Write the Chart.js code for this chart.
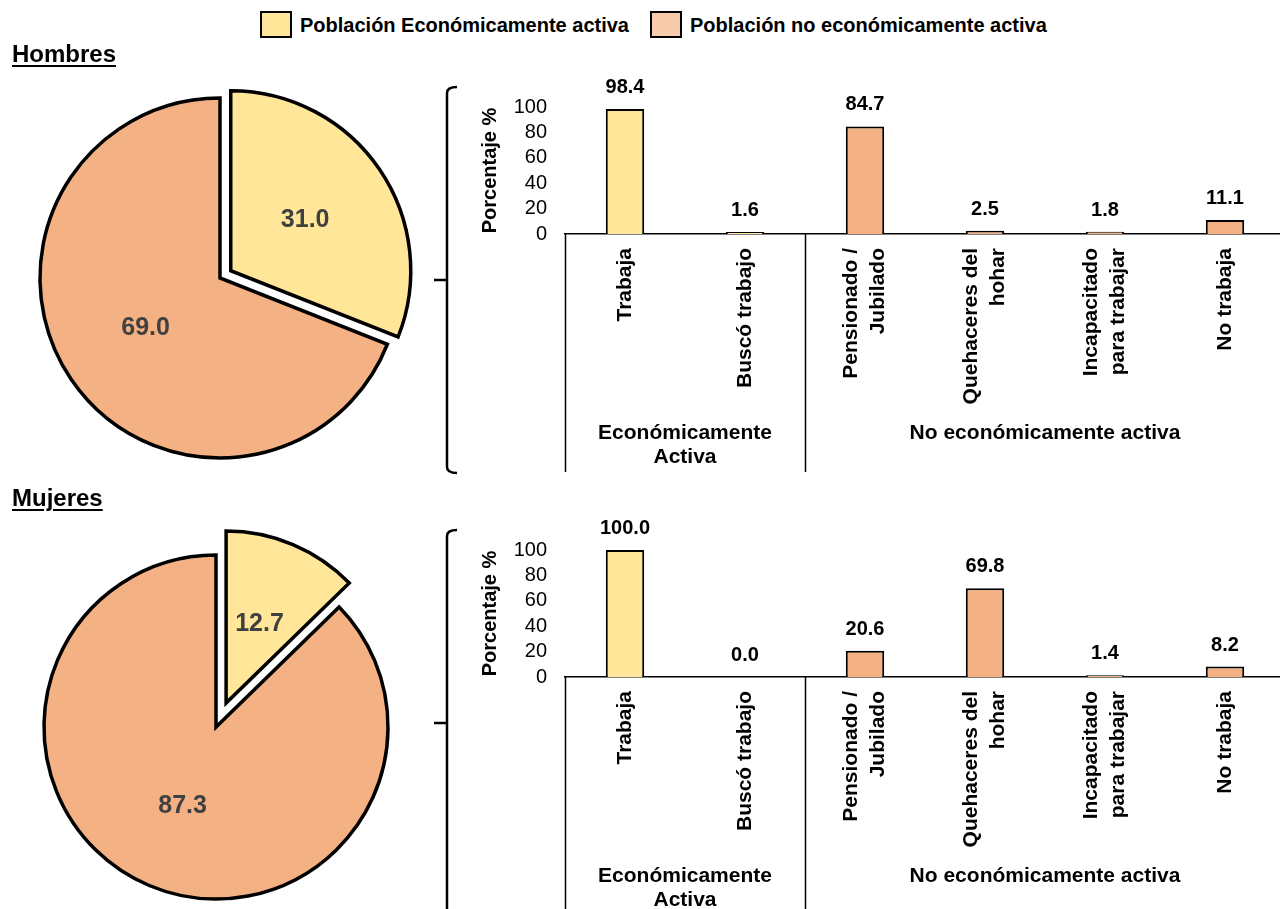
<!DOCTYPE html>
<html>
<head>
<meta charset="utf-8">
<script src="https://cdn.jsdelivr.net/npm/chart.js@4.4.1/dist/chart.umd.min.js"></script>
<style>
  body {
    margin: 0;
    width: 1280px;
    height: 909px;
    overflow: hidden;
    position: relative;
    background: #fff;
    font-family: "Liberation Sans", Arial, sans-serif;
  }
  canvas { position: absolute; }
  .section {
    position: absolute;
    left: 12px;
    font-size: 24px;
    line-height: 24px;
    font-weight: bold;
    text-decoration: underline;
    text-decoration-thickness: 2px;
    text-underline-offset: 3px;
    z-index: 5;
  }
  .swatch {
    position: absolute;
    top: 11px;
    width: 28px;
    height: 23px;
    border: 2px solid #000;
  }
  .legtext {
    position: absolute;
    top: 15px;
    font-size: 20px;
    line-height: 20px;
    font-weight: bold;
    white-space: nowrap;
  }
</style>
</head>
<body>
<div id="legend"></div>
<div class="section" style="top:42px">Hombres</div>
<div class="section" style="top:486px">Mujeres</div>

<canvas id="pieMen" width="440" height="440" style="left:0px; top:58px"></canvas>
<canvas id="barMen" width="870" height="420" style="left:420px; top:60px"></canvas>
<canvas id="pieWomen" width="440" height="440" style="left:-4px; top:507px"></canvas>
<canvas id="barWomen" width="870" height="420" style="left:420px; top:503px"></canvas>

<script>
const FONT = "'Liberation Sans', Arial, sans-serif";
const YELLOW = "#FFE699";
const ORANGE = "#F4B183";

// Data
const pieLabels = ["Población Económicamente activa", "Población no económicamente activa"];
const legendColors = [YELLOW, "#F8CBAD"];
const menPie = [31.0, 69.0];
const womenPie = [12.7, 87.3];

const barLabels = [
    ["Trabaja"],
    ["Buscó trabajo"],
    ["Pensionado /", "Jubilado"],
    ["Quehaceres del", "hohar"],
    ["Incapacitado", "para trabajar"],
    ["No trabaja"],
];
const groupLabels = [["Económicamente", "Activa"], ["No económicamente activa"]];
const groupSizes = [2, 4];
const menBars = [98.4, 1.6, 84.7, 2.5, 1.8, 11.1];
const womenBars = [100.0, 0.0, 20.6, 69.8, 1.4, 8.2];
const yTicks = [0, 20, 40, 60, 80, 100];
const barColors = [YELLOW, YELLOW, ORANGE, ORANGE, ORANGE, ORANGE];

// Legend
const legend = document.getElementById("legend");
const legendPos = [260, 650];
pieLabels.forEach((label, i) => {
    const sw = document.createElement("div");
    sw.className = "swatch";
    sw.style.left = legendPos[i] + "px";
    sw.style.background = legendColors[i];
    legend.appendChild(sw);
    const tx = document.createElement("div");
    tx.className = "legtext";
    tx.style.left = legendPos[i] + 40 + "px";
    tx.textContent = label;
    legend.appendChild(tx);
});

// Pull the first slice out from the centre (Excel style explode)
const explodeSlices = {
    id: "explodeSlices",
    afterUpdate(chart) {
        const amounts = chart.data.datasets[0].explode || [];
        chart.getDatasetMeta(0).data.forEach((arc, i) => {
            const d = amounts[i] || 0;
            if (!d) return;
            const half = (arc.startAngle + arc.endAngle) / 2;
            arc.x += Math.cos(half) * d;
            arc.y += Math.sin(half) * d;
        });
    },
};

// Value labels inside the pie slices
const pieValueLabels = {
    id: "pieValueLabels",
    afterDatasetsDraw(chart) {
        const ctx = chart.ctx;
        const values = chart.data.datasets[0].data;
        ctx.save();
        ctx.font = "bold 25px " + FONT;
        ctx.fillStyle = "#404040";
        ctx.textAlign = "center";
        ctx.textBaseline = "middle";
        chart.getDatasetMeta(0).data.forEach((arc, i) => {
            const half = (arc.startAngle + arc.endAngle) / 2;
            const r = arc.outerRadius / 2;
            ctx.fillText(values[i].toFixed(1), arc.x + Math.cos(half) * r, arc.y + Math.sin(half) * r);
        });
        ctx.restore();
    },
};

function makePie(id, values, radius, explode) {
    return new Chart(document.getElementById(id), {
        type: "pie",
        data: {
            labels: pieLabels,
            datasets: [
                {
                    data: values,
                    explode: [explode, 0],
                    backgroundColor: [YELLOW, ORANGE],
                    borderColor: "#000",
                    borderWidth: 3.5,
                    borderJoinStyle: "miter",
                },
            ],
        },
        options: {
            responsive: false,
            animation: false,
            events: [],
            radius: radius,
            plugins: {
                legend: { display: false },
                tooltip: { enabled: false },
            },
        },
        plugins: [explodeSlices, pieValueLabels],
    });
}

// Value labels, rotated category labels, group labels, brace
const barExtras = {
    id: "barExtras",
    afterDraw(chart) {
        const ctx = chart.ctx;
        const xs = chart.scales.x;
        const area = chart.chartArea;
        const values = chart.data.datasets[0].data;
        ctx.save();
        ctx.fillStyle = "#000";
        ctx.strokeStyle = "#000";

        // values above bars
        ctx.font = "bold 20px " + FONT;
        ctx.textAlign = "center";
        ctx.textBaseline = "alphabetic";
        chart.getDatasetMeta(0).data.forEach((bar, i) => {
            ctx.fillText(values[i].toFixed(1), bar.x, bar.y - 16);
        });

        // rotated category labels
        ctx.font = "bold 21px " + FONT;
        barLabels.forEach((lines, i) => {
            ctx.save();
            ctx.translate(xs.getPixelForValue(i), area.bottom + 14);
            ctx.rotate(-Math.PI / 2);
            ctx.textAlign = "right";
            ctx.textBaseline = "middle";
            lines.forEach((t, j) => ctx.fillText(t, 0, (j - (lines.length - 1) / 2) * 27));
            ctx.restore();
        });

        // group separators and labels
        ctx.lineWidth = 1.5;
        let start = -0.5;
        const edges = [start];
        groupSizes.forEach((n) => {
            start += n;
            edges.push(start);
        });
        edges.forEach((v) => {
            const px = Math.round(xs.getPixelForValue(v)) + 0.5;
            ctx.beginPath();
            ctx.moveTo(px, area.bottom);
            ctx.lineTo(px, area.bottom + 238);
            ctx.stroke();
        });
        ctx.textAlign = "center";
        ctx.textBaseline = "middle";
        groupLabels.forEach((lines, g) => {
            const cx = (xs.getPixelForValue(edges[g]) + xs.getPixelForValue(edges[g + 1])) / 2;
            lines.forEach((t, j) => ctx.fillText(t, cx, area.bottom + 199 + j * 24));
        });

        // brace on the left
        const bx = 27, top = 27, bottom = 413, mid = 220;
        ctx.lineWidth = 2.5;
        ctx.beginPath();
        ctx.moveTo(bx + 10, top);
        ctx.quadraticCurveTo(bx, top, bx, top + 6);
        ctx.lineTo(bx, bottom - 6);
        ctx.quadraticCurveTo(bx, bottom, bx + 10, bottom);
        ctx.stroke();
        ctx.beginPath();
        ctx.moveTo(bx - 13, mid);
        ctx.lineTo(bx, mid);
        ctx.stroke();
        ctx.restore();
    },
};

function makeBars(id, values) {
    return new Chart(document.getElementById(id), {
        type: "bar",
        data: {
            labels: barLabels,
            datasets: [
                {
                    data: values,
                    backgroundColor: barColors,
                    borderColor: "#000",
                    borderWidth: 2,
                    barPercentage: 0.32,
                    categoryPercentage: 1,
                },
            ],
        },
        options: {
            responsive: false,
            animation: false,
            events: [],
            layout: { padding: { top: 47, right: 5, left: 0, bottom: 0 } },
            plugins: {
                legend: { display: false },
                tooltip: { enabled: false },
            },
            scales: {
                x: {
                    ticks: { display: false },
                    grid: { display: false },
                    border: { color: "#000", width: 1.5 },
                    afterFit: (s) => { s.height = 246; },
                },
                y: {
                    min: 0,
                    max: 100,
                    afterBuildTicks: (s) => { s.ticks = yTicks.map((v) => ({ value: v })); },
                    ticks: {
                        color: "#000",
                        font: { size: 20, family: FONT },
                        padding: 18,
                        autoSkip: false,
                    },
                    grid: { display: false, drawTicks: false },
                    border: { display: false },
                    title: {
                        display: true,
                        text: "Porcentaje %",
                        color: "#000",
                        font: { size: 20, weight: "bold", family: FONT },
                        padding: { top: 58, bottom: 0 },
                    },
                    afterFit: (s) => {
                        s.width = 145;
                        s.paddingTop = 0;
                        s.paddingBottom = 0;
                    },
                },
            },
        },
        plugins: [barExtras],
    });
}

makePie("pieMen", menPie, 180, 13);
makePie("pieWomen", womenPie, 172, 26);
makeBars("barMen", menBars);
makeBars("barWomen", womenBars);
</script>
</body>
</html>
